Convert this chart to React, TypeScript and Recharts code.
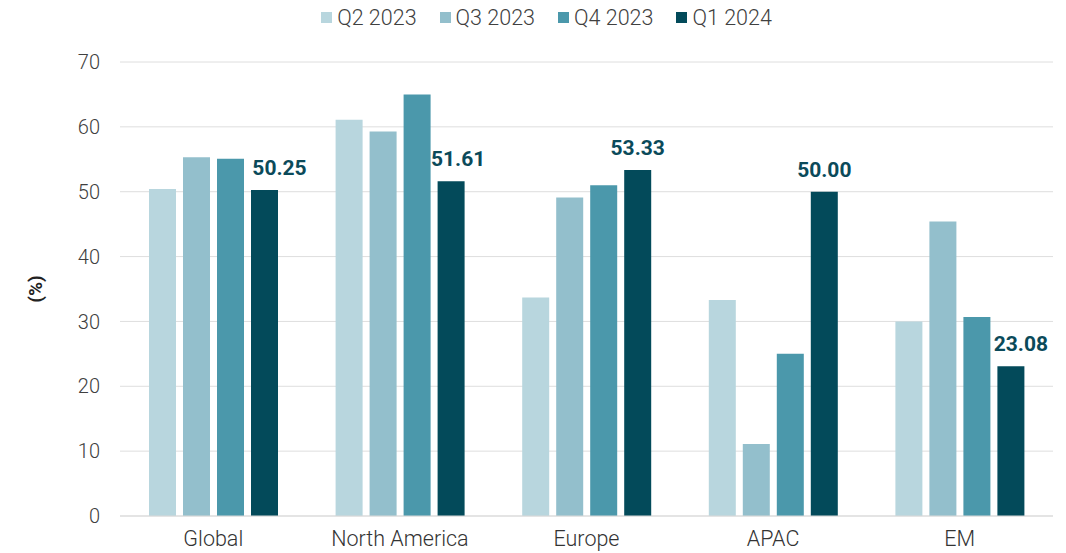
import React from "react";
import { BarChart, Bar, XAxis, YAxis, CartesianGrid, Legend, LabelList } from "recharts";

const categories = ["Global", "North America", "Europe", "APAC", "EM"];
const q2_2023 = [50.4, 61.1, 33.7, 33.3, 30.0];
const q3_2023 = [55.3, 59.3, 49.1, 11.1, 45.4];
const q4_2023 = [55.1, 65.0, 51.0, 25.0, 30.7];
const q1_2024 = [50.25, 51.61, 53.33, 50.0, 23.08];
const yTicks = [0, 10, 20, 30, 40, 50, 60, 70];

const seriesNames = ["Q2 2023", "Q3 2023", "Q4 2023", "Q1 2024"];
const seriesColors = ["#b8d6de", "#93bfcc", "#4b98ab", "#034a5a"];
const keys = ["q2", "q3", "q4", "q1"];

const data = categories.map((c, i) => ({
  name: c,
  q2: q2_2023[i],
  q3: q3_2023[i],
  q4: q4_2023[i],
  q1: q1_2024[i],
}));

const FONT = "Roboto, 'Liberation Sans', sans-serif";
const labelShift = [15, 7, 0, 0, 10];

const renderLegend = () => (
  <div
    style={{
      display: "flex",
      justifyContent: "center",
      paddingRight: 20,
      fontFamily: FONT,
      fontWeight: 300,
      fontSize: 21.5,
      color: "#404040",
      height: 34,
      alignItems: "center",
    }}
  >
    {seriesNames.map((n, i) => (
      <div key={n} style={{ display: "flex", alignItems: "center", marginRight: i < 3 ? 23 : 0 }}>
        <span style={{ width: 11, height: 11, background: seriesColors[i], display: "inline-block", marginRight: 5 }} />
        <span>{n}</span>
      </div>
    ))}
  </div>
);

const ValueLabel = (props: any) => {
  const { x, y, width, value, index } = props;
  const cx = x + width / 2 + (labelShift[index] || 0);
  return (
    <text
      x={cx}
      y={y - 15}
      textAnchor="middle"
      fontFamily={FONT}
      fontWeight={700}
      fontSize={21}
      fill="#0b4a5a"
    >
      {Number(value).toFixed(2)}
    </text>
  );
};

export default function App() {
  return (
    <div style={{ width: 1066, height: 553, background: "#fff", overflow: "hidden" }}>
      <style>{`body{margin:0}`}</style>
      <BarChart
        width={1066}
        height={553}
        data={data}
        margin={{ top: 28, right: 13, bottom: 0, left: 60 }}
        barSize={27}
        barGap={7}
      >
        <Legend verticalAlign="top" content={renderLegend} wrapperStyle={{ top: 0 }} />
        <CartesianGrid vertical={false} stroke="#dedede" />
        <XAxis
          dataKey="name"
          axisLine={{ stroke: "#d9d9d9" }}
          tickLine={false}
          tickMargin={9}
          tick={{ fontFamily: FONT, fontWeight: 300, fontSize: 21.5, fill: "#333" }}
          height={37}
          interval={0}
        />
        <YAxis
          domain={[0, 70]}
          ticks={yTicks}
          axisLine={false}
          tickLine={false}
          tickMargin={14}
          width={60}
          tick={{ fontFamily: FONT, fontWeight: 300, fontSize: 20, fill: "#404040" }}
          label={{
            value: "(%)",
            angle: -90,
            position: "insideLeft",
            offset: -25,
            style: { fontFamily: FONT, fontWeight: 700, fontSize: 19, fill: "#222", textAnchor: "middle" },
          }}
        />
        {keys.map((k, i) => (
          <Bar key={k} dataKey={k} name={seriesNames[i]} fill={seriesColors[i]} isAnimationActive={false}>
            {k === "q1" ? <LabelList dataKey="q1" content={ValueLabel} /> : null}
          </Bar>
        ))}
      </BarChart>
    </div>
  );
}
